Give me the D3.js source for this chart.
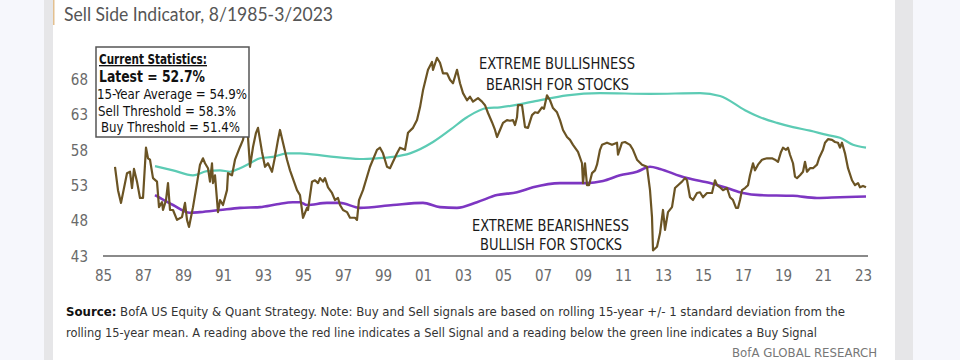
<!DOCTYPE html>
<html>
<head>
<meta charset="utf-8">
<script src="https://cdn.jsdelivr.net/npm/d3@7/dist/d3.min.js"></script>
<style>
html,body{margin:0;padding:0;background:#f6f7fc;}
svg{display:block;}
</style>
</head>
<body>
<svg id="chart" width="960" height="360"></svg>
<script>
// ---------- DATA ----------
const sentimentYears = [1985.60,1985.75,1985.90,1986.20,1986.35,1986.45,1986.55,1986.70,1986.85,1987.00,1987.15,1987.25,1987.35,1987.50,1987.70,1987.80,1987.95,1988.00,1988.15,1988.25,1988.35,1988.50,1988.70,1988.95,1989.10,1989.20,1989.30,1989.50,1989.70,1989.85,1990.00,1990.10,1990.25,1990.35,1990.45,1990.50,1990.60,1990.75,1990.85,1991.00,1991.20,1991.25,1991.45,1991.60,1991.85,1992.00,1992.10,1992.25,1992.35,1992.50,1992.65,1992.75,1992.95,1993.10,1993.25,1993.45,1993.60,1993.75,1993.85,1994.00,1994.20,1994.35,1994.70,1994.85,1995.00,1995.20,1995.25,1995.45,1995.60,1995.75,1995.85,1996.00,1996.10,1996.25,1996.45,1996.60,1996.75,1996.85,1997.00,1997.20,1997.35,1997.60,1997.70,1997.80,1998.00,1998.35,1998.70,1998.85,1999.00,1999.20,1999.35,1999.50,1999.70,1999.85,2000.10,2000.25,2000.50,2000.70,2000.85,2001.00,2001.25,2001.45,2001.50,2001.70,2001.85,2002.00,2002.20,2002.35,2002.50,2002.70,2002.85,2003.00,2003.20,2003.35,2003.50,2003.75,2003.95,2004.10,2004.25,2004.45,2004.60,2004.70,2004.85,2005.00,2005.20,2005.35,2005.50,2005.60,2005.70,2005.75,2005.95,2006.10,2006.25,2006.45,2006.60,2006.75,2006.95,2007.05,2007.20,2007.35,2007.50,2007.70,2007.85,2008.00,2008.20,2008.35,2008.50,2008.75,2008.95,2009.00,2009.10,2009.20,2009.30,2009.45,2009.60,2009.70,2009.85,2009.95,2010.20,2010.45,2010.70,2010.75,2010.95,2011.10,2011.35,2011.50,2011.70,2011.95,2012.20,2012.35,2012.45,2012.50,2012.70,2012.85,2013.00,2013.10,2013.25,2013.45,2013.60,2013.75,2013.95,2014.10,2014.20,2014.35,2014.50,2014.70,2014.85,2015.00,2015.20,2015.45,2015.60,2015.70,2015.85,2016.00,2016.20,2016.35,2016.50,2016.65,2016.75,2016.85,2016.95,2017.10,2017.25,2017.35,2017.50,2017.60,2017.75,2017.95,2018.20,2018.45,2018.60,2018.75,2018.90,2019.00,2019.15,2019.25,2019.35,2019.50,2019.60,2019.70,2019.85,2020.00,2020.10,2020.20,2020.35,2020.50,2020.70,2020.80,2021.00,2021.10,2021.25,2021.45,2021.60,2021.75,2021.85,2021.95,2022.10,2022.25,2022.45,2022.60,2022.75,2022.85,2023.00,2023.15];
const sentimentValues = [55.6,52.3,50.5,54.7,54.9,52.6,55.3,53.5,51.2,51.2,58.3,56.8,56.6,54.0,53.5,49.9,50.6,49.5,50.9,53.3,49.5,49.5,48.1,48.5,50.5,48.1,47.1,49.9,53.3,55.9,56.8,56.1,55.4,53.5,56.1,53.3,54.4,49.2,50.9,50.2,52.3,54.7,54.4,56.6,58.4,59.4,60.8,59.8,55.6,58.4,60.4,61.1,57.7,55.6,56.1,54.9,57.0,59.4,60.8,59.0,56.6,55.1,52.3,51.6,48.4,49.8,49.5,53.5,53.7,53.3,54.0,53.5,54.0,52.7,51.9,50.9,51.2,50.2,49.5,49.2,48.4,48.4,48.1,50.9,52.3,55.6,58.0,58.3,57.5,55.6,55.4,56.3,57.5,58.3,58.0,60.4,61.1,62.2,64.0,66.4,69.3,70.4,69.3,71.0,70.3,68.8,68.8,67.9,67.4,69.3,67.4,66.0,65.0,65.5,64.8,65.3,64.8,64.3,63.2,61.9,60.8,59.8,60.8,61.8,62.2,62.1,62.2,61.5,62.6,64.3,64.3,61.2,61.1,62.9,63.3,63.2,64.0,63.8,65.7,65.0,63.9,63.3,62.2,60.8,59.8,59.4,58.7,57.7,56.1,53.3,56.1,53.0,53.0,54.7,55.1,55.9,58.0,58.7,59.0,58.7,59.0,57.3,59.0,59.1,58.7,58.0,56.6,55.9,55.6,52.3,48.5,43.8,44.3,46.2,49.5,46.7,49.2,49.9,52.6,53.0,53.5,54.0,53.7,51.3,50.9,51.9,52.0,51.3,51.9,51.9,53.7,53.0,52.7,52.3,52.6,51.3,50.9,49.8,49.8,50.9,52.3,52.6,53.0,54.4,56.1,55.1,55.9,56.6,56.8,56.8,56.6,56.3,57.7,58.3,58.0,58.3,57.3,56.1,54.2,54.0,54.4,54.9,56.3,54.9,55.4,55.4,55.9,56.8,58.0,59.0,59.5,59.4,59.1,59.0,58.3,59.0,57.5,55.4,53.7,53.0,53.3,52.7,52.9,52.7];

const sellYears  = [1987.60,1988.50,1989.50,1990.20,1990.85,1991.35,1991.85,1992.35,1992.85,1993.50,1994.20,1994.85,1996.20,1997.85,1998.70,1999.50,2000.35,2001.50,2002.35,2003.20,2004.20,2004.85,2006.50,2008.20,2009.85,2012.35,2014.85,2015.85,2017.10,2017.85,2018.70,2019.50,2020.35,2021.20,2021.85,2022.50,2023.15];
const sellValues = [55.7,55.1,54.4,55.0,55.1,54.9,55.4,56.1,56.8,57.0,57.5,57.5,57.1,56.7,56.8,57.0,57.5,59.1,60.8,62.6,63.9,64.0,64.8,65.7,66.0,65.9,66.0,65.6,63.6,62.6,61.8,61.2,60.7,60.1,59.7,58.7,58.3];

const buyYears  = [1987.60,1987.85,1988.50,1989.35,1989.85,1990.85,1991.85,1992.85,1993.70,1994.50,1994.85,1995.20,1996.20,1996.85,1997.85,1999.50,2001.00,2001.85,2002.70,2003.70,2004.70,2005.70,2006.50,2007.85,2009.20,2010.00,2010.85,2011.70,2012.35,2012.85,2013.85,2014.20,2015.35,2016.20,2017.00,2017.85,2019.50,2020.70,2021.85,2023.15];
const buyValues = [51.6,51.2,50.2,49.1,49.2,49.5,49.8,49.9,50.3,50.6,50.6,50.2,50.5,50.5,49.8,50.2,50.5,49.9,49.8,50.6,51.6,52.0,52.7,53.3,53.3,53.6,54.4,54.9,55.6,55.3,54.3,54.0,53.3,52.6,51.9,51.6,51.5,51.2,51.3,51.4];

const yTickValues = [43,48,53,58,63,68];
const xTickYears = d3.range(1985, 2024, 2);
const xTickLabels = xTickYears.map(y => String(y).slice(2));

const statsLines = ["Current Statistics:","Latest = 52.7%","15-Year Average = 54.9%","Sell Threshold = 58.3%","Buy Threshold = 51.4%"];
const titleText = "Sell Side Indicator, 8/1985-3/2023";
const noteTop = ["EXTREME BULLISHNESS","BEARISH FOR STOCKS"];
const noteBottom = ["EXTREME BEARISHNESS","BULLISH FOR STOCKS"];
const sourceLine1 = "BofA US Equity & Quant Strategy. Note: Buy and Sell signals are based on rolling 15-year +/- 1 standard deviation from the";
const sourceLine2 = "rolling 15-year mean. A reading above the red line indicates a Sell Signal and a reading below the green line indicates a Buy Signal";
const brandText = "BofA GLOBAL RESEARCH";

// ---------- DRAW ----------
const NARROW = "'Liberation Sans Narrow','Arial Narrow','DejaVu Sans Condensed',sans-serif";
const svg = d3.select("#chart");

// page frame
svg.append("rect").attr("x",0).attr("y",0).attr("width",960).attr("height",360).attr("fill","#f6f7fc");
svg.append("rect").attr("x",44).attr("y",0).attr("width",869).attr("height",360).attr("fill","#e6e6e8");
svg.append("rect").attr("x",53).attr("y",0).attr("width",842).attr("height",360).attr("fill","#ffffff");
svg.append("rect").attr("x",53).attr("y",0).attr("width",1.5).attr("height",25).attr("fill","#e3c08f");

const x = d3.scaleLinear().domain([1985, 2023]).range([103, 863]);
const y = d3.scaleLinear().domain([43, 68]).range([256, 79]);

// title
svg.append("text").attr("x",64).attr("y",21)
  .attr("font-family","Lato,'Open Sans',sans-serif").attr("font-size",19.5).attr("fill","#555")
  .attr("textLength",269).attr("lengthAdjust","spacingAndGlyphs").text(titleText);

// base axis line
svg.append("line").attr("x1",x(1985)).attr("x2",x(2023.25)).attr("y1",y(43)).attr("y2",y(43))
  .attr("stroke","#8a8a8a").attr("stroke-width",2);

// y axis
const yAxis = svg.append("g").attr("transform","translate(88,0)")
  .call(d3.axisLeft(y).tickValues(yTickValues).tickSize(0).tickPadding(0).tickFormat(d3.format("d")));
yAxis.select(".domain").remove();
yAxis.selectAll("text").attr("font-family",NARROW).attr("font-size",15).attr("fill","#6a6a6a").attr("dy","0.35em");

// x axis
const xAxis = svg.append("g").attr("transform","translate(0,270)")
  .call(d3.axisBottom(x).tickValues(xTickYears).tickSize(0).tickPadding(0).tickFormat((d,i)=>xTickLabels[i]));
xAxis.select(".domain").remove();
xAxis.selectAll("text").attr("font-family",NARROW).attr("font-size",15).attr("fill","#6a6a6a").attr("dy","0.71em");

// lines
const smooth = d3.line().x(d=>x(d[0])).y(d=>y(d[1])).curve(d3.curveMonotoneX);
const raw = d3.line().x(d=>x(d[0])).y(d=>y(d[1]));

svg.append("path").datum(sellYears.map((t,i)=>[t,sellValues[i]]))
  .attr("d",smooth).attr("fill","none").attr("stroke","#5ccbb4").attr("stroke-width",2.2);
svg.append("path").datum(buyYears.map((t,i)=>[t,buyValues[i]]))
  .attr("d",smooth).attr("fill","none").attr("stroke","#7d36c2").attr("stroke-width",2.6);
svg.append("path").datum(sentimentYears.map((t,i)=>[t,sentimentValues[i]]))
  .attr("d",raw).attr("fill","none").attr("stroke","#6b5424").attr("stroke-width",2.2)
  .attr("stroke-linejoin","round");

// stats box
svg.append("rect").attr("x",96).attr("y",47).attr("width",153).attr("height",90)
  .attr("fill","#fff").attr("stroke","#555").attr("stroke-width",1.5);
const statSpec = [
  {x:99, y:64, len:108, size:13.5, w:"bold"},
  {x:99, y:82, len:106, size:15, w:"bold"},
  {x:97, y:99, len:150, size:14, w:"normal"},
  {x:98, y:115.5, len:138, size:14, w:"normal"},
  {x:101, y:132, len:139, size:14, w:"normal"}
];
statsLines.forEach((s,i)=>{
  const sp = statSpec[i];
  const t = svg.append("text").attr("x",sp.x).attr("y",sp.y)
    .attr("font-family",NARROW).attr("font-size",sp.size).attr("font-weight",sp.w).attr("fill","#111")
    .attr("textLength",sp.len).attr("lengthAdjust","spacingAndGlyphs").text(s);
  if(i===0) t.attr("text-decoration","underline");
});

// annotations
const noteSpec = [
  {t:noteTop[0], x:557, y:69, len:156},
  {t:noteTop[1], x:557.5, y:90, len:143},
  {t:noteBottom[0], x:550.5, y:231, len:157},
  {t:noteBottom[1], x:551, y:250, len:142}
];
noteSpec.forEach(n=>{
  svg.append("text").attr("x",n.x - n.len/2).attr("y",n.y)
    .attr("font-family",NARROW).attr("font-size",15.5).attr("fill","#1a1a1a")
    .attr("textLength",n.len).attr("lengthAdjust","spacingAndGlyphs").text(n.t);
});

// source
const s1 = svg.append("text").attr("x",66).attr("y",316).attr("font-family",NARROW).attr("font-size",13).attr("fill","#333")
  .attr("textLength",779).attr("lengthAdjust","spacingAndGlyphs");
s1.append("tspan").attr("font-weight","bold").attr("fill","#111").text("Source:");
s1.append("tspan").text(" " + sourceLine1);
svg.append("text").attr("x",66).attr("y",337).attr("font-family",NARROW).attr("font-size",13).attr("fill","#333")
  .attr("textLength",751).attr("lengthAdjust","spacingAndGlyphs").text(sourceLine2);
svg.append("text").attr("x",877).attr("y",357).attr("text-anchor","end").attr("font-family",NARROW).attr("font-size",13).attr("fill","#777")
  .attr("textLength",145).attr("lengthAdjust","spacingAndGlyphs").text(brandText);
</script>
</body>
</html>
